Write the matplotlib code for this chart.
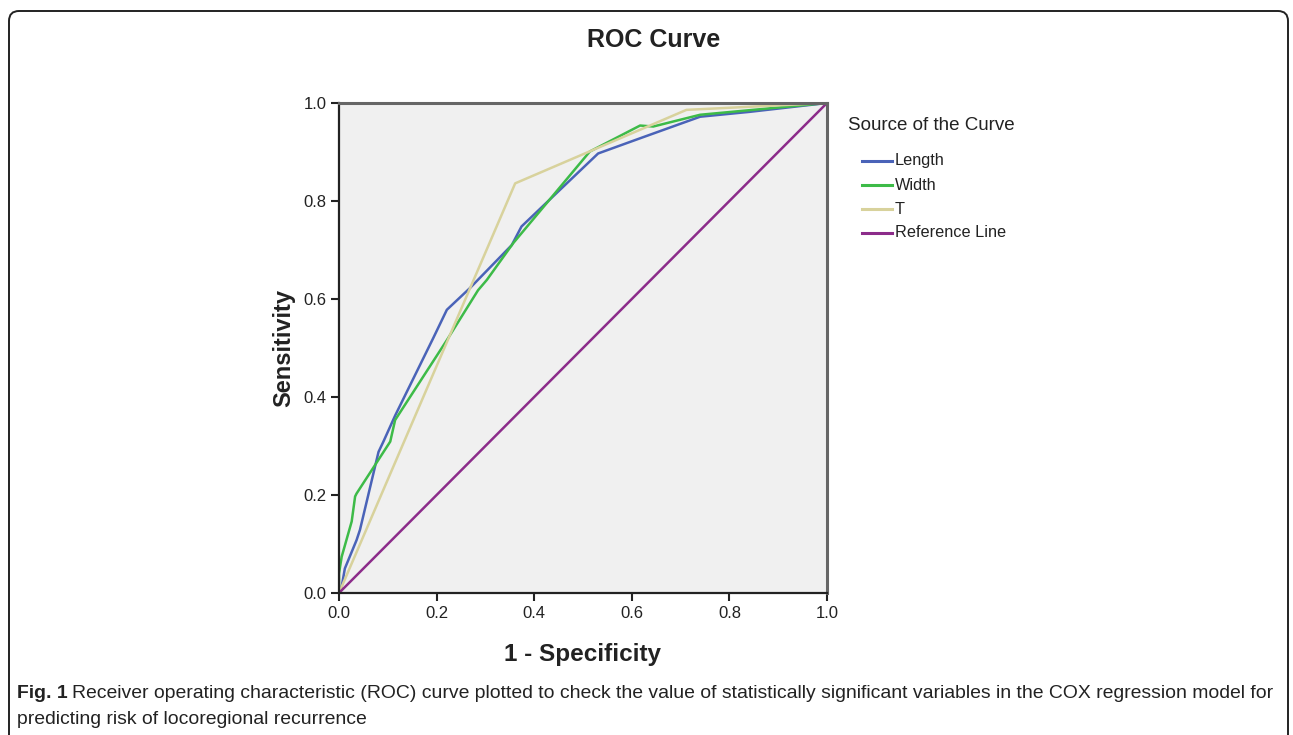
import matplotlib
matplotlib.use("Agg")
import matplotlib.pyplot as plt
from matplotlib.patches import FancyBboxPatch
from matplotlib.lines import Line2D
from matplotlib.transforms import IdentityTransform

# ---- data ----
length_fpr = [0, 0.0055, 0.012, 0.036, 0.043, 0.081, 0.091, 0.115, 0.193, 0.221,
              0.268, 0.354, 0.374, 0.531, 0.617, 0.740, 0.842, 1.0]
length_tpr = [0, 0.013, 0.050, 0.108, 0.129, 0.288, 0.309, 0.362, 0.520, 0.578,
              0.622, 0.710, 0.748, 0.897, 0.928, 0.972, 0.982, 1.0]

width_fpr = [0, 0.0, 0.0055, 0.026, 0.033, 0.036, 0.105, 0.115, 0.221, 0.285,
             0.303, 0.357, 0.514, 0.617, 0.644, 0.740, 1.0]
width_tpr = [0, 0.040, 0.074, 0.146, 0.197, 0.203, 0.309, 0.353, 0.516, 0.618,
             0.639, 0.714, 0.901, 0.954, 0.952, 0.976, 1.0]

t_fpr = [0, 0.361, 0.712, 1.0]
t_tpr = [0, 0.836, 0.986, 1.0]

ref_fpr = [0, 1]
ref_tpr = [0, 1]

xticks = [0.0, 0.2, 0.4, 0.6, 0.8, 1.0]
yticks = [0.0, 0.2, 0.4, 0.6, 0.8, 1.0]
series_labels = ["Length", "Width", "T", "Reference Line"]
series_colors = ["#4a63b8", "#3dbb48", "#d8d29c", "#8c2c8a"]

caption_bold = "Fig. 1"
caption_line1 = ("Receiver operating characteristic (ROC) curve plotted to check the value of "
                 "statistically significant variables in the COX regression model for")
caption_line2 = "predicting risk of locoregional recurrence"

W, H = 1293, 735
plt.rcParams['font.family'] = ['Liberation Sans', 'DejaVu Sans']
fig = plt.figure(figsize=(W / 100, H / 100), dpi=100)
fx = lambda px: px / W
fy = lambda py: 1 - py / H

# frame around figure
frame = FancyBboxPatch((9, -30), 1279, H - 11 + 30,
                       boxstyle="round,pad=0,rounding_size=10",
                       transform=IdentityTransform(), facecolor="none",
                       edgecolor="#222222", linewidth=1.4)
fig.add_artist(frame)

ax = fig.add_axes([339 / W, (H - 593) / H, 488 / W, 490 / H])
ax.set_facecolor("#f0f0f0")

xs = [length_fpr, width_fpr, t_fpr, ref_fpr]
ys = [length_tpr, width_tpr, t_tpr, ref_tpr]
for x, y, lab, c in zip(xs, ys, series_labels, series_colors):
    ax.plot(x, y, color=c, lw=1.8, label=lab, solid_joinstyle="round")

ax.set_xlim(0, 1)
ax.set_ylim(0, 1)
ax.set_xticks(xticks)
ax.set_yticks(yticks)
ax.set_xticklabels([f"{v:.1f}" for v in xticks], fontsize=12)
ax.set_yticklabels([f"{v:.1f}" for v in yticks], fontsize=12)
ax.tick_params(direction="out", length=6, width=1.5, color="#222222", pad=3,
               labelcolor="#222222")
for s in ["left", "bottom"]:
    ax.spines[s].set_color("#222222")
    ax.spines[s].set_linewidth(1.6)
for s in ["top", "right"]:
    ax.spines[s].set_color("#666666")
    ax.spines[s].set_linewidth(2.2)

ax.set_xlabel("1 - Specificity", fontsize=17.5, fontweight="bold", labelpad=16,
              color="#222222")
ax.set_ylabel("Sensitivity", fontsize=17, fontweight="bold", labelpad=6,
              color="#222222")

fig.text(fx(654), fy(40), "ROC Curve", ha="center", va="center",
         fontsize=18, fontweight="bold", color="#222222")

# legend (manual, SPSS-like)
fig.text(fx(848), fy(125), "Source of the Curve", fontsize=13.5, va="center",
         color="#222222")
for i, (lab, c) in enumerate(zip(series_labels, series_colors)):
    yy = fy(161 + 24 * i)
    fig.add_artist(Line2D([fx(862), fx(892)], [yy, yy], color=c, lw=2.2,
                          transform=fig.transFigure))
    fig.text(fx(895), yy, lab, fontsize=11.7, va="center", color="#222222")

# caption, fitted to width
fig.canvas.draw()
r = fig.canvas.get_renderer()
fs = 14.0
tb = fig.text(fx(17), fy(694), caption_bold, fontsize=fs, fontweight="bold",
              va="center", color="#222222")
bw = tb.get_window_extent(r).width
t1 = fig.text(fx(17 + bw + 5), fy(694), caption_line1, fontsize=fs, va="center",
              color="#222222")
w1 = t1.get_window_extent(r).width
total = bw + 5 + w1
target = 1278 - 17
scale = min(1.0, target / total)
fs2 = fs * scale
tb.set_fontsize(fs2)
bw = tb.get_window_extent(r).width
t1.set_fontsize(fs2)
t1.set_x(fx(17 + bw + 4))
fig.text(fx(17), fy(720), caption_line2, fontsize=fs2, va="center", color="#222222")

fig.savefig("out.png", dpi=100)
